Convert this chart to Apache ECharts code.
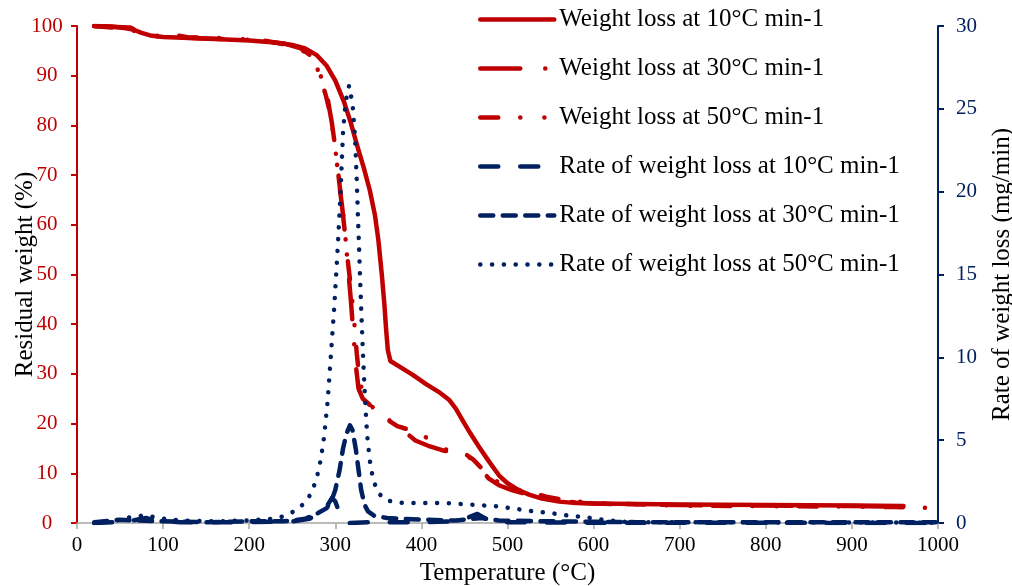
<!DOCTYPE html>
<html>
<head>
<meta charset="utf-8">
<script src="https://cdn.jsdelivr.net/npm/echarts@6/dist/echarts.min.js"></script>
<style>
  html, body { margin: 0; padding: 0; background: #fff; }
  #chart { width: 1012px; height: 586px; }
</style>
</head>
<body>
<div id="chart"></div>
<script>
// Thermogravimetric curves: residual weight (%) and rate of weight loss (mg/min) vs temperature (°C)
const RED = '#C00000';
const NAVY = '#002060';
const FONT = '"Liberation Serif", "Times New Roman", serif';

const seriesNames = [
  'Weight loss at 10°C min-1',
  'Weight loss at 30°C min-1',
  'Weight loss at 50°C min-1',
  'Rate of weight loss at 10°C min-1',
  'Rate of weight loss at 30°C min-1',
  'Rate of weight loss at 50°C min-1'
];

// [temperature °C, residual weight %]
const weight10 = [[20,100],[40,99.9],[55,99.6],[65,99.3],[75,98.6],[85,98.1],[100,97.8],[130,97.6],[160,97.4],[200,97.1],[230,96.7],[250,96.2],[265,95.5],[278,94.2],[290,92.0],[300,89.0],[310,84.8],[318,80.5],[326,75.6],[333,71.5],[340,67.0],[346,62.0],[350,57.0],[354,50.0],[357,44.0],[359,39.0],[361,34.8],[364,32.6],[375,31.4],[390,29.8],[405,28.0],[420,26.4],[432,24.8],[440,23.0],[448,20.6],[457,18.0],[467,15.3],[478,12.5],[490,9.6],[500,8.0],[512,6.7],[525,5.7],[540,4.9],[560,4.3],[580,4.0],[600,3.9],[650,3.8],[700,3.7],[800,3.6],[900,3.5],[960,3.4]];

const weight30 = [[20,100],[45,99.8],[62,99.7],[70,99.0],[80,98.1],[100,97.8],[150,97.5],[200,97.2],[240,96.5],[260,95.5],[272,94.0],[280,91.5],[286,88.5],[291,85.5],[296,80.5],[300,75.5],[304,69.0],[308,63.5],[312,57.0],[315,51.0],[318,45.0],[321,38.0],[324,31.5],[327,27.0],[332,25.0],[340,23.8],[350,22.4],[360,21.0],[375,19.2],[393,16.6],[410,15.4],[425,14.6],[440,14.1],[455,13.3],[463,12.0],[470,10.6],[478,9.0],[490,7.6],[505,6.6],[520,5.9],[540,5.1],[560,4.5],[580,4.1],[600,3.9],[700,3.6],[800,3.5],[900,3.4],[960,3.3]];

const weight50 = [[20,100],[40,99.7],[60,99.4],[75,98.5],[90,98.0],[110,98.3],[130,97.7],[160,97.6],[190,97.4],[220,97.0],[250,96.0],[268,94.5],[278,92.0],[284,89.0],[289,86.0],[294,82.5],[298,78.0],[302,72.5],[306,66.5],[310,61.0],[313,55.0],[316,50.5],[319,46.0],[322,40.5],[325,34.0],[328,29.0],[333,25.3],[345,23.0],[355,21.4],[372,19.5],[394,18.3],[412,16.6],[420,15.2],[435,14.5],[450,14.0],[460,12.8],[470,11.0],[480,9.2],[495,7.6],[510,6.8],[525,6.2],[545,5.3],[570,4.5],[600,4.0],[700,3.5],[800,3.4],[900,3.3],[950,3.2],[1000,3.0]];

// [temperature °C, rate of weight loss mg/min]
const rate10 = [[20,0],[60,0.1],[80,0.3],[90,0.15],[120,0.05],[200,0.05],[250,0.1],[270,0.25],[282,0.6],[290,1.0],[296,1.5],[300,1.3],[305,0.6],[309,0.15],[315,0.0],[340,0.05],[400,0.05],[440,0.1],[455,0.35],[465,0.55],[475,0.25],[500,0.05],[600,0.02],[1000,0]];

const rate30 = [[20,0.05],[50,0.2],[70,0.15],[100,0.1],[150,0.05],[200,0.1],[240,0.1],[265,0.25],[280,0.6],[290,0.9],[296,1.4],[300,2.0],[305,3.2],[309,4.5],[313,5.4],[317,5.9],[320,5.6],[324,4.4],[327,3.2],[330,2.0],[334,1.1],[338,0.7],[345,0.45],[360,0.3],[400,0.2],[440,0.15],[470,0.3],[490,0.15],[550,0.1],[650,0.05],[1000,0.05]];

const rate50 = [[20,0],[40,0.1],[55,0.25],[65,0.4],[80,0.45],[95,0.3],[120,0.15],[160,0.1],[200,0.15],[225,0.25],[240,0.4],[252,0.7],[262,1.1],[271,1.7],[278,2.6],[283,3.8],[287,5.2],[291,7.3],[295,10.2],[299,13.2],[303,16.8],[306,19.8],[309,23.6],[312,25.4],[316,26.4],[320,25.3],[323,23.2],[325,20.5],[327,17.5],[329,14.5],[331,11.6],[333,9.2],[335,7.0],[337,5.3],[340,3.8],[344,2.6],[350,1.8],[360,1.35],[380,1.2],[400,1.2],[430,1.2],[460,1.1],[490,1.0],[510,0.85],[530,0.7],[550,0.6],[570,0.45],[590,0.35],[610,0.2],[640,0.05],[1000,0.02]];

// Temperature and axis ranges
const tempMin = 0, tempMax = 1000, tempStep = 100;
const weightMin = 0, weightMax = 100, weightStep = 10;
const rateMin = 0, rateMax = 30, rateStep = 5;

const LINE_W = 4.5;

function lineSeries(name, data, yIndex, color, dash) {
  return {
    name: name,
    type: 'line',
    data: data,
    yAxisIndex: yIndex,
    symbol: 'none',
    showSymbol: false,
    smooth: false,
    lineStyle: { color: color, width: LINE_W, type: dash, cap: 'round', join: 'round' },
    itemStyle: { color: color }
  };
}

const chart = echarts.init(document.getElementById('chart'), null, { renderer: 'canvas' });

chart.setOption({
  animation: false,
  backgroundColor: '#ffffff',
  grid: { left: 77, right: 74, top: 26, bottom: 63, containLabel: false, outerBoundsMode: 'none' },
  legend: {
    orient: 'vertical',
    left: 478,
    top: 7,
    padding: 0,
    itemWidth: 74,
    itemHeight: 25,
    itemGap: 24,
    data: seriesNames,
    itemStyle: { opacity: 0 },
    lineStyle: { width: LINE_W },
    textStyle: { fontFamily: FONT, fontSize: 25, color: '#000' }
  },
  xAxis: {
    type: 'value',
    min: tempMin, max: tempMax, interval: tempStep,
    name: 'Temperature (°C)',
    nameLocation: 'middle',
    nameGap: 38,
    nameMoveOverlap: false,
    nameTextStyle: { fontFamily: FONT, fontSize: 25, color: '#000' },
    axisLine: { show: true, lineStyle: { color: '#A6A6A6', width: 1.5 } },
    axisTick: { show: true, length: 6, lineStyle: { color: '#A6A6A6', width: 1.5 } },
    axisLabel: { fontFamily: FONT, fontSize: 21, color: '#000', margin: 12, formatter: v => String(v) },
    splitLine: { show: false }
  },
  yAxis: [
    {
      type: 'value',
      position: 'left',
      min: weightMin, max: weightMax, interval: weightStep,
      name: 'Residual weight (%)',
      nameLocation: 'middle',
      nameGap: 39,
      nameMoveOverlap: false,
      nameTextStyle: { fontFamily: FONT, fontSize: 25, color: '#000' },
      axisLine: { show: true, lineStyle: { color: RED, width: 2 } },
      axisTick: { show: true, length: 6, lineStyle: { color: RED, width: 2 } },
      axisLabel: { fontFamily: FONT, fontSize: 21, color: RED, margin: 30, align: 'center', formatter: v => String(v) },
      splitLine: { show: false }
    },
    {
      type: 'value',
      position: 'right',
      min: rateMin, max: rateMax, interval: rateStep,
      name: 'Rate of weight loss (mg/min)',
      nameLocation: 'middle',
      nameGap: 52,
      nameRotate: 90,
      nameMoveOverlap: false,
      nameTextStyle: { fontFamily: FONT, fontSize: 25, color: '#000' },
      axisLine: { show: true, lineStyle: { color: NAVY, width: 2 } },
      axisTick: { show: true, length: 6, lineStyle: { color: NAVY, width: 2 } },
      axisLabel: { fontFamily: FONT, fontSize: 21, color: NAVY, margin: 18 },
      splitLine: { show: false }
    }
  ],
  series: [
    lineSeries(seriesNames[0], weight10, 0, RED, 'solid'),
    lineSeries(seriesNames[1], weight30, 0, RED, [40, 25, 0.1, 25]),
    lineSeries(seriesNames[2], weight50, 0, RED, [18, 22, 0.1, 24, 0.1, 22]),
    lineSeries(seriesNames[3], rate10, 1, NAVY, [18, 22]),
    lineSeries(seriesNames[4], rate30, 1, NAVY, [13, 9.5]),
    lineSeries(seriesNames[5], rate50, 1, NAVY, [0.1, 11.7])
  ]
});
</script>
</body>
</html>
